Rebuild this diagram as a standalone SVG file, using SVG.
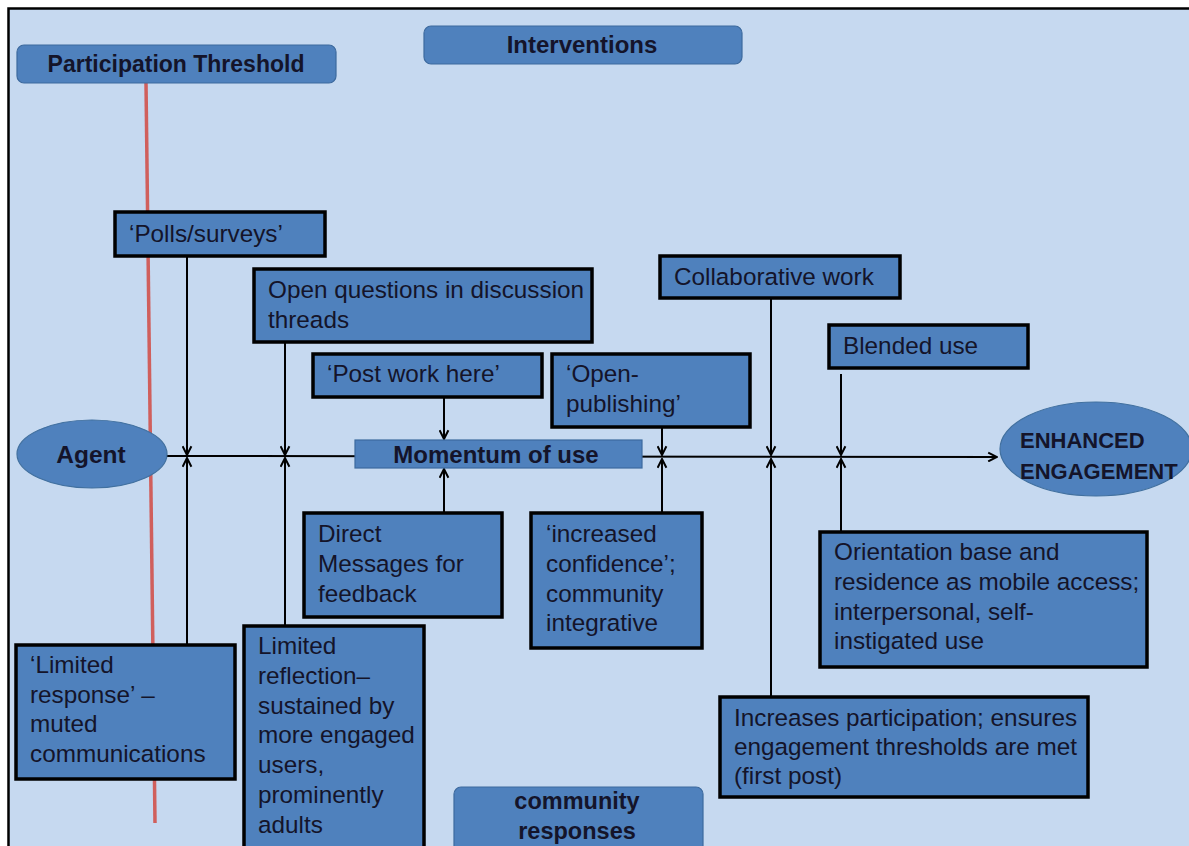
<svg xmlns="http://www.w3.org/2000/svg" width="1189" height="846" viewBox="0 0 1189 846">
  <defs>
    <style>
      .bg { fill: #c6d9f0; }
      .frame { fill: none; stroke: #000; stroke-width: 2.5; }
      .hdr { fill: #4f81bd; stroke: #3d6a9e; stroke-width: 1.2; }
      .box { fill: #4f81bd; stroke: #000; stroke-width: 3.5; }
      .oval { fill: #4f81bd; stroke: #41709f; stroke-width: 1.2; }
      .plain { fill: #4f81bd; stroke: #3d6a9e; stroke-width: 1.2; }
      .ht { font-family: "Liberation Sans", Arial, sans-serif; font-weight: bold; font-size: 23px; fill: #14142a; }
      .t { font-family: "Liberation Sans", Arial, sans-serif; font-size: 24.3px; fill: #14142a; }
      .wire { fill: none; stroke: #000; stroke-width: 2; }
      .threshold { fill: none; stroke: #d05f5c; stroke-width: 3.5; }
    </style>
    <marker id="chev" viewBox="0 0 10 10" refX="9" refY="5" markerWidth="11" markerHeight="11" markerUnits="userSpaceOnUse" orient="auto">
      <polyline points="1,1 9,5 1,9" fill="none" stroke="#000" stroke-width="1.8"/>
    </marker>
  </defs>

  <!-- canvas -->
  <rect x="0" y="0" width="1189" height="846" fill="#ffffff"/>
  <rect class="bg" x="9" y="9" width="1180" height="837"/>
  <path class="frame" d="M8.5,846 V8.5 H1189"/>

  <!-- connectors -->
  <g id="connectors">
    <line class="threshold" x1="146" y1="83" x2="155" y2="823"/>
    <!-- main flow -->
    <line class="wire" x1="166" y1="456" x2="997" y2="457" marker-end="url(#chev)"/>
    <!-- polls / limited response -->
    <line class="wire" x1="187" y1="256" x2="187" y2="455" marker-end="url(#chev)"/>
    <line class="wire" x1="187" y1="645" x2="187" y2="458" marker-end="url(#chev)"/>
    <!-- open questions / limited reflection -->
    <line class="wire" x1="285" y1="343" x2="285" y2="455" marker-end="url(#chev)"/>
    <line class="wire" x1="285" y1="626" x2="285" y2="458" marker-end="url(#chev)"/>
    <!-- post work / direct messages -->
    <line class="wire" x1="444" y1="397" x2="444" y2="439" marker-end="url(#chev)"/>
    <line class="wire" x1="444" y1="513" x2="444" y2="469" marker-end="url(#chev)"/>
    <!-- open publishing / increased confidence -->
    <line class="wire" x1="662" y1="428" x2="662" y2="455" marker-end="url(#chev)"/>
    <line class="wire" x1="662" y1="513" x2="662" y2="459" marker-end="url(#chev)"/>
    <!-- collaborative work / increases participation -->
    <line class="wire" x1="771" y1="298" x2="771" y2="455" marker-end="url(#chev)"/>
    <line class="wire" x1="771" y1="697" x2="771" y2="459" marker-end="url(#chev)"/>
    <!-- blended use / orientation -->
    <line class="wire" x1="841" y1="374" x2="841" y2="455" marker-end="url(#chev)"/>
    <line class="wire" x1="841" y1="532" x2="841" y2="459" marker-end="url(#chev)"/>
  </g>

  <!-- headings -->
  <g id="participation-threshold">
    <rect class="hdr" x="17" y="45" width="319" height="38" rx="7"/>
    <text class="ht" x="176" y="72" text-anchor="middle">Participation Threshold</text>
  </g>
  <g id="interventions">
    <rect class="hdr" x="424" y="26" width="318" height="38" rx="7"/>
    <text class="ht" x="582" y="53" text-anchor="middle" style="font-size:24px">Interventions</text>
  </g>
  <g id="community-responses">
    <rect class="hdr" x="454" y="787" width="249" height="70" rx="7"/>
    <text class="ht" x="577" y="809" text-anchor="middle" style="font-size:23.5px">community</text>
    <text class="ht" x="577" y="839" text-anchor="middle" style="font-size:23.5px">responses</text>
  </g>

  <!-- flow ends -->
  <g id="agent">
    <ellipse class="oval" cx="92" cy="454" rx="75" ry="34"/>
    <text class="ht" x="91" y="463" text-anchor="middle" style="font-size:24.5px">Agent</text>
  </g>
  <g id="enhanced-engagement">
    <ellipse class="oval" cx="1096" cy="449" rx="96" ry="47"/>
    <text class="ht" x="1020" y="448" style="font-size:22px">ENHANCED</text>
    <text class="ht" x="1020" y="479" style="font-size:22px">ENGAGEMENT</text>
  </g>
  <g id="momentum">
    <rect class="plain" x="355" y="440" width="287" height="28"/>
    <text class="ht" x="496" y="463" text-anchor="middle" style="font-size:24px">Momentum of use</text>
  </g>

  <!-- interventions above the line -->
  <g id="polls">
    <rect class="box" x="115" y="212" width="210" height="44"/>
    <text class="t" x="129" y="242">‘Polls/surveys’</text>
  </g>
  <g id="open-questions">
    <rect class="box" x="254" y="269" width="338" height="73"/>
    <text class="t" x="268" y="298">Open questions in discussion</text>
    <text class="t" x="268" y="328">threads</text>
  </g>
  <g id="post-work">
    <rect class="box" x="313" y="354" width="229" height="43"/>
    <text class="t" x="327" y="382">‘Post work here’</text>
  </g>
  <g id="open-publishing">
    <rect class="box" x="552" y="354" width="198" height="73"/>
    <text class="t" x="566" y="382">‘Open-</text>
    <text class="t" x="566" y="412">publishing’</text>
  </g>
  <g id="collaborative-work">
    <rect class="box" x="660" y="256" width="240" height="42"/>
    <text class="t" x="674" y="285">Collaborative work</text>
  </g>
  <g id="blended-use">
    <rect class="box" x="829" y="325" width="199" height="43"/>
    <text class="t" x="843" y="354">Blended use</text>
  </g>

  <!-- responses below the line -->
  <g id="direct-messages">
    <rect class="box" x="304" y="513" width="198" height="104"/>
    <text class="t" x="318" y="542">Direct</text>
    <text class="t" x="318" y="572">Messages for</text>
    <text class="t" x="318" y="602">feedback</text>
  </g>
  <g id="increased-confidence">
    <rect class="box" x="531" y="513" width="171" height="135"/>
    <text class="t" x="546" y="542">‘increased</text>
    <text class="t" x="546" y="572">confidence’;</text>
    <text class="t" x="546" y="602">community</text>
    <text class="t" x="546" y="631">integrative</text>
  </g>
  <g id="orientation">
    <rect class="box" x="820" y="532" width="327" height="135"/>
    <text class="t" x="834" y="560">Orientation base and</text>
    <text class="t" x="834" y="590">residence as mobile access;</text>
    <text class="t" x="834" y="620">interpersonal, self-</text>
    <text class="t" x="834" y="649">instigated use</text>
  </g>
  <g id="limited-response">
    <rect class="box" x="16" y="645" width="219" height="134"/>
    <text class="t" x="30" y="673">‘Limited</text>
    <text class="t" x="30" y="703">response’ –</text>
    <text class="t" x="30" y="732">muted</text>
    <text class="t" x="30" y="762">communications</text>
  </g>
  <g id="limited-reflection">
    <rect class="box" x="244" y="626" width="180" height="240"/>
    <text class="t" x="258" y="654">Limited</text>
    <text class="t" x="258" y="684">reflection–</text>
    <text class="t" x="258" y="714">sustained by</text>
    <text class="t" x="258" y="743">more engaged</text>
    <text class="t" x="258" y="773">users,</text>
    <text class="t" x="258" y="803">prominently</text>
    <text class="t" x="258" y="833">adults</text>
  </g>
  <g id="increases-participation">
    <rect class="box" x="720" y="697" width="368" height="100"/>
    <text class="t" x="734" y="726">Increases participation; ensures</text>
    <text class="t" x="734" y="755">engagement thresholds are met</text>
    <text class="t" x="734" y="784">(first post)</text>
  </g>
</svg>
